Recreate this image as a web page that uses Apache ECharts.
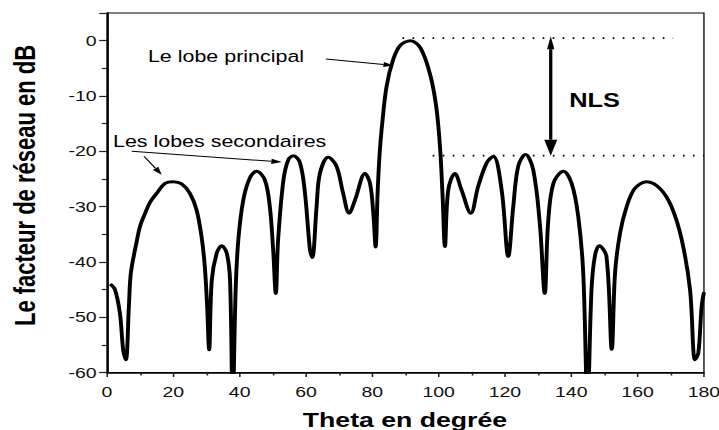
<!DOCTYPE html>
<html>
<head>
<meta charset="utf-8">
<title>Facteur de réseau</title>
<script src="https://cdn.jsdelivr.net/npm/echarts@6/dist/echarts.min.js"></script>
<style>
  html, body { margin: 0; padding: 0; background: #fff; overflow: hidden; }
  /* the figure is laid out on a narrower canvas and widened horizontally */
  #chart { width: 553px; height: 430px; transform: scaleX(1.3); transform-origin: 0 0; }
</style>
</head>
<body>
<div id="chart"></div>
<script>
// Array factor (dB) versus steering angle theta (degrees)
const thetaDeg = [
  1.0, 2.4, 3.9, 4.9, 5.7, 6.6, 7.2, 8.9, 10.0, 11.5, 13.0, 15.0, 17.5, 20.0, 22.5, 25.0, 27.0, 28.5, 29.5, 30.2, 30.8,
  31.6, 33.1, 34.6, 36.1, 37.1, 37.9, 38.8, 39.6, 41.1, 43.1, 45.1, 47.6, 49.1, 50.1, 50.9,
  51.6, 53.2, 54.7, 56.2, 58.2, 59.7, 61.2, 61.9, 63.2, 64.2, 66.7, 69.2, 71.2, 73.0,
  74.8, 77.8, 79.3, 80.3, 81.0, 81.6, 82.2, 82.9, 84.3, 86.3, 88.5, 91.5, 94.6, 97.6, 99.4, 100.5, 101.2, 101.9,
  102.9, 104.9, 106.9, 109.7, 111.9, 114.5, 116.5, 119.0, 121.0, 122.5, 124.0, 126.2, 128.5, 130.5, 132.0,
  133.0, 134.6, 137.6, 140.1, 142.1, 143.6, 144.9, 146.1, 147.1, 148.4, 150.6, 152.2, 153.2, 154.7, 156.7,
  159.2, 162.7, 166.7, 170.2, 173.3, 175.8, 177.3, 178.3, 179.3, 180.0
];
const gainDb = [
  -44.0, -45.0, -49.3, -56.0, -57.7, -48.1, -42.0, -36.5, -33.5, -31.2, -29.2, -27.6, -25.8, -25.5, -25.9, -27.6, -30.6, -35.4, -40.9, -48.1, -55.9,
  -43.3, -38.4, -37.1, -38.4, -43.3, -66.0, -45.0, -36.0, -28.8, -24.8, -23.6, -25.2, -30.0, -37.8, -45.7,
  -36.0, -25.2, -21.5, -20.8, -22.1, -27.6, -37.8, -39.2, -30.0, -24.0, -21.1, -22.7, -27.6, -31.2,
  -28.8, -24.0, -25.8, -31.2, -37.3, -27.5, -20.5, -15.5, -8.3, -3.4, -0.8, 0.0, -1.4, -6.5, -12.5, -20.0, -28.2, -37.2,
  -27.0, -24.0, -27.0, -31.2, -26.4, -22.1, -20.9, -27.0, -39.0, -30.0, -22.7, -20.6, -23.3, -33.0, -45.7,
  -33.0, -25.8, -23.6, -25.8, -31.8, -42.0, -66.0, -45.0, -39.0, -37.1, -39.0, -55.8, -42.0, -34.8, -30.0,
  -26.7, -25.5, -26.7, -30.0, -36.0, -45.0, -57.7, -56.5, -48.1, -45.5
];

// Axis ticks
const xTicks = [0, 20, 40, 60, 80, 100, 120, 140, 160, 180];
const yTicks = [-60, -50, -40, -30, -20, -10, 0];
const yTop = 5;

// Reference levels: main lobe peak and highest side lobe
const mainLobeLevel = [[89.1, 0.45], [170.7, 0.45]];
const sideLobeLevel = [[98.2, -20.8], [180.0, -20.8]];

// Annotation arrows [x0, y0, x1, y1] in data units (head at x1, y1)
const pointerArrows = [
  [66.0, -3.3, 86.5, -4.5],
  [7.45, -20.0, 52.7, -21.96],
  [11.15, -20.9, 16.5, -24.25]
];
// NLS span between the two levels
const nlsSpan = [[133.8, 0.8, 133.8, -20.8]];

const FONT = '"Liberation Sans", Arial, Helvetica, sans-serif';

function headPoints(p0, p1, len, half) {
  const dx = p1[0] - p0[0], dy = p1[1] - p0[1];
  const d = Math.hypot(dx, dy) || 1;
  const ux = dx / d, uy = dy / d;
  const bx = p1[0] - ux * len, by = p1[1] - uy * len;
  return {
    base: [bx, by],
    tri: [[p1[0], p1[1]], [bx - uy * half, by + ux * half], [bx + uy * half, by - ux * half]]
  };
}

function renderPointer(params, api) {
  const p0 = api.coord([api.value(0), api.value(1)]);
  const p1 = api.coord([api.value(2), api.value(3)]);
  const h = headPoints(p0, p1, 8, 2.6);
  return {
    type: 'group',
    children: [
      { type: 'line', shape: { x1: p0[0], y1: p0[1], x2: h.base[0], y2: h.base[1] },
        style: { stroke: '#000', lineWidth: 1 } },
      { type: 'polygon', shape: { points: h.tri }, style: { fill: '#000' } }
    ]
  };
}

function renderSpan(params, api) {
  const pTop = api.coord([api.value(0), api.value(1)]);
  const pBot = api.coord([api.value(2), api.value(3)]);
  const hTop = headPoints(pBot, pTop, 13, 2.8);
  const hBot = headPoints(pTop, pBot, 16, 5);
  return {
    type: 'group',
    children: [
      { type: 'line', shape: { x1: hTop.base[0], y1: hTop.base[1], x2: hBot.base[0], y2: hBot.base[1] },
        style: { stroke: '#000', lineWidth: 2.5 } },
      { type: 'polygon', shape: { points: hTop.tri }, style: { fill: '#000' } },
      { type: 'polygon', shape: { points: hBot.tri }, style: { fill: '#000' } }
    ]
  };
}

const chart = echarts.init(document.getElementById('chart'), null, { renderer: 'svg' });

const dottedStyle = { color: '#000', width: 1.8, type: [1.3, 6.4] };

chart.setOption({
  animation: false,
  backgroundColor: '#fff',
  grid: {
    left: 82.3, right: 11.5, top: 13, bottom: 57.5,
    outerBoundsMode: 'none', containLabel: false,
    show: true, borderColor: '#000', borderWidth: 1, backgroundColor: 'transparent'
  },
  xAxis: {
    type: 'value',
    min: xTicks[0], max: xTicks[xTicks.length - 1], interval: xTicks[1] - xTicks[0],
    axisLine: { show: true, onZero: false, lineStyle: { color: '#000', width: 1.5 } },
    axisTick: { show: true, inside: false, length: 4.5, lineStyle: { color: '#222', width: 1.2 } },
    minorTick: { show: true, splitNumber: 2, length: 3, lineStyle: { color: '#222', width: 1.2 } },
    splitLine: { show: false },
    axisLabel: { fontFamily: FONT, fontSize: 15, color: '#111', margin: 12 }
  },
  yAxis: {
    type: 'value',
    min: yTicks[0], max: yTop, interval: yTicks[1] - yTicks[0],
    axisLine: { show: true, onZero: false, lineStyle: { color: '#000', width: 1.5 } },
    axisTick: { show: true, inside: false, length: 6, lineStyle: { color: '#222', width: 1.2 } },
    minorTick: { show: true, splitNumber: 2, length: 4, lineStyle: { color: '#222', width: 1.2 } },
    splitLine: { show: false },
    axisLabel: { fontFamily: FONT, fontSize: 15, color: '#111', margin: 8,
      formatter: v => (yTicks.indexOf(v) >= 0 ? String(v) : '') }
  },
  series: [
    {
      name: 'Niveau principal', type: 'line', data: mainLobeLevel, showSymbol: false, silent: true,
      lineStyle: dottedStyle, z: 2
    },
    {
      name: 'Niveau secondaire', type: 'line', data: sideLobeLevel, showSymbol: false, silent: true,
      lineStyle: dottedStyle, z: 2
    },
    {
      name: 'Facteur de réseau', type: 'line',
      data: thetaDeg.map((t, i) => [t, gainDb[i]]),
      showSymbol: false, smooth: 0.35, clip: true,
      lineStyle: { color: '#000', width: 3, join: 'round' }, z: 3
    },
    {
      name: 'Flèches', type: 'custom', data: pointerArrows, renderItem: renderPointer,
      encode: { x: [0, 2], y: [1, 3] }, clip: false, silent: true, z: 4
    },
    {
      name: 'NLS', type: 'custom', data: nlsSpan, renderItem: renderSpan,
      encode: { x: [0, 2], y: [1, 3] }, clip: false, silent: true, z: 4
    }
  ],
  graphic: [
    { type: 'text', x: 113.8, y: 56.7,
      style: { text: 'Le lobe principal', fontFamily: FONT, fontSize: 16.5, fill: '#000', align: 'left', verticalAlign: 'middle' } },
    { type: 'text', x: 86.9, y: 141.7,
      style: { text: 'Les lobes secondaires', fontFamily: FONT, fontSize: 16.5, fill: '#000', align: 'left', verticalAlign: 'middle' } },
    { type: 'text', x: 437.9, y: 100.8,
      style: { text: 'NLS', fontFamily: FONT, fontSize: 19.5, fontWeight: 'bold', fill: '#000', align: 'left', verticalAlign: 'middle' } },
    { type: 'text', x: 311.5, y: 419.5,
      style: { text: 'Theta en degrée', fontFamily: FONT, fontSize: 20.5, fontWeight: 'bold', fill: '#000', align: 'center', verticalAlign: 'middle' } },
    { type: 'text', x: 19.2, y: 185.5, rotation: Math.PI / 2,
      style: { text: 'Le facteur de réseau en dB', fontFamily: FONT, fontSize: 22, fontWeight: 'bold', fill: '#000', align: 'center', verticalAlign: 'middle' } }
  ]
});
</script>
</body>
</html>
